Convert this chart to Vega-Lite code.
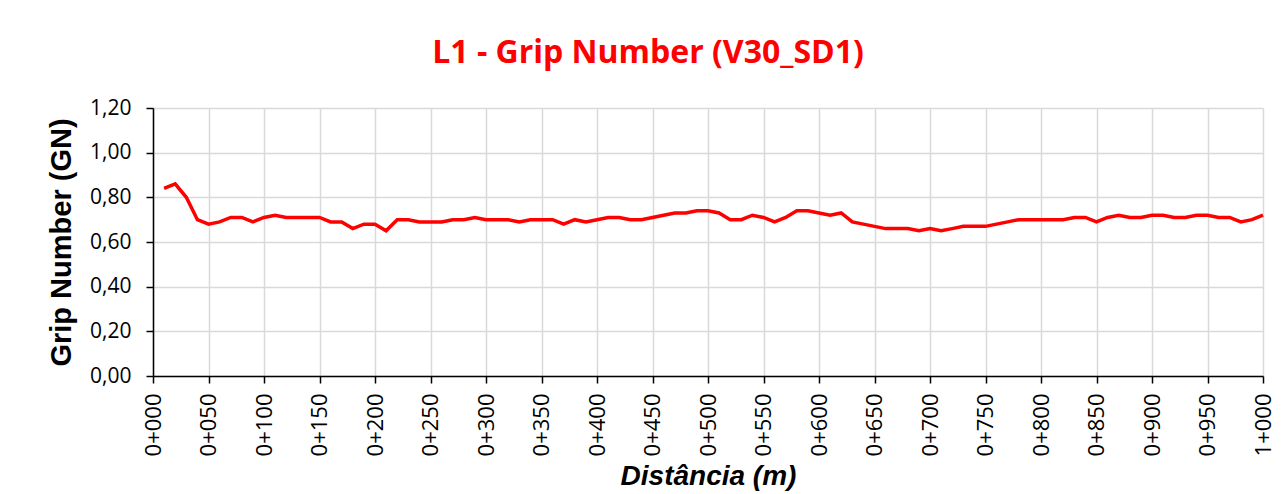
{
  "$schema": "https://vega.github.io/schema/vega-lite/v6.json",
  "autosize": {"type": "none"},
  "width": 1110,
  "height": 268,
  "padding": {"left": 153, "top": 108, "right": 19, "bottom": 118},
  "background": "white",
  "config": {"view": {"stroke": null}},
  "title": {
    "text": "L1 - Grip Number (V30_SD1)",
    "font": "Open Sans",
    "fontSize": 32,
    "fontWeight": "bold",
    "color": "#FF0000",
    "anchor": "middle",
    "frame": "group",
    "dx": -60,
    "baseline": "alphabetic",
    "offset": 2
  },
  "data": {
    "values": [
      {"d": 10, "gn": 0.84}, {"d": 20, "gn": 0.86}, {"d": 30, "gn": 0.80}, {"d": 40, "gn": 0.70}, {"d": 50, "gn": 0.68},
      {"d": 60, "gn": 0.69}, {"d": 70, "gn": 0.71}, {"d": 80, "gn": 0.71}, {"d": 90, "gn": 0.69}, {"d": 100, "gn": 0.71},
      {"d": 110, "gn": 0.72}, {"d": 120, "gn": 0.71}, {"d": 130, "gn": 0.71}, {"d": 140, "gn": 0.71}, {"d": 150, "gn": 0.71},
      {"d": 160, "gn": 0.69}, {"d": 170, "gn": 0.69}, {"d": 180, "gn": 0.66}, {"d": 190, "gn": 0.68}, {"d": 200, "gn": 0.68},
      {"d": 210, "gn": 0.65}, {"d": 220, "gn": 0.70}, {"d": 230, "gn": 0.70}, {"d": 240, "gn": 0.69}, {"d": 250, "gn": 0.69},
      {"d": 260, "gn": 0.69}, {"d": 270, "gn": 0.70}, {"d": 280, "gn": 0.70}, {"d": 290, "gn": 0.71}, {"d": 300, "gn": 0.70},
      {"d": 310, "gn": 0.70}, {"d": 320, "gn": 0.70}, {"d": 330, "gn": 0.69}, {"d": 340, "gn": 0.70}, {"d": 350, "gn": 0.70},
      {"d": 360, "gn": 0.70}, {"d": 370, "gn": 0.68}, {"d": 380, "gn": 0.70}, {"d": 390, "gn": 0.69}, {"d": 400, "gn": 0.70},
      {"d": 410, "gn": 0.71}, {"d": 420, "gn": 0.71}, {"d": 430, "gn": 0.70}, {"d": 440, "gn": 0.70}, {"d": 450, "gn": 0.71},
      {"d": 460, "gn": 0.72}, {"d": 470, "gn": 0.73}, {"d": 480, "gn": 0.73}, {"d": 490, "gn": 0.74}, {"d": 500, "gn": 0.74},
      {"d": 510, "gn": 0.73}, {"d": 520, "gn": 0.70}, {"d": 530, "gn": 0.70}, {"d": 540, "gn": 0.72}, {"d": 550, "gn": 0.71},
      {"d": 560, "gn": 0.69}, {"d": 570, "gn": 0.71}, {"d": 580, "gn": 0.74}, {"d": 590, "gn": 0.74}, {"d": 600, "gn": 0.73},
      {"d": 610, "gn": 0.72}, {"d": 620, "gn": 0.73}, {"d": 630, "gn": 0.69}, {"d": 640, "gn": 0.68}, {"d": 650, "gn": 0.67},
      {"d": 660, "gn": 0.66}, {"d": 670, "gn": 0.66}, {"d": 680, "gn": 0.66}, {"d": 690, "gn": 0.65}, {"d": 700, "gn": 0.66},
      {"d": 710, "gn": 0.65}, {"d": 720, "gn": 0.66}, {"d": 730, "gn": 0.67}, {"d": 740, "gn": 0.67}, {"d": 750, "gn": 0.67},
      {"d": 760, "gn": 0.68}, {"d": 770, "gn": 0.69}, {"d": 780, "gn": 0.70}, {"d": 790, "gn": 0.70}, {"d": 800, "gn": 0.70},
      {"d": 810, "gn": 0.70}, {"d": 820, "gn": 0.70}, {"d": 830, "gn": 0.71}, {"d": 840, "gn": 0.71}, {"d": 850, "gn": 0.69},
      {"d": 860, "gn": 0.71}, {"d": 870, "gn": 0.72}, {"d": 880, "gn": 0.71}, {"d": 890, "gn": 0.71}, {"d": 900, "gn": 0.72},
      {"d": 910, "gn": 0.72}, {"d": 920, "gn": 0.71}, {"d": 930, "gn": 0.71}, {"d": 940, "gn": 0.72}, {"d": 950, "gn": 0.72},
      {"d": 960, "gn": 0.71}, {"d": 970, "gn": 0.71}, {"d": 980, "gn": 0.69}, {"d": 990, "gn": 0.70}, {"d": 1000, "gn": 0.72}
    ]
  },
  "mark": {"type": "line", "color": "#FF0000", "strokeWidth": 3.5},
  "encoding": {
    "x": {
      "field": "d",
      "type": "quantitative",
      "scale": {"domain": [0, 1000], "nice": false, "zero": false},
      "axis": {
        "title": "Distância (m)",
        "titleFont": "Liberation Sans",
        "titleFontSize": 28,
        "titleFontWeight": "bold",
        "titleFontStyle": "italic",
        "titleColor": "black",
        "titlePadding": 7,
        "values": [0, 50, 100, 150, 200, 250, 300, 350, 400, 450, 500, 550, 600, 650, 700, 750, 800, 850, 900, 950, 1000],
        "labelExpr": "floor(datum.value/1000) + '+' + format(datum.value % 1000, '03d')",
        "labelAngle": -90,
        "labelFont": "Open Sans",
        "labelFontSize": 22,
        "labelColor": "black",
        "labelPadding": 10,
        "labelOverlap": false,
        "labelFlush": false,
        "tickColor": "black",
        "tickSize": 7,
        "tickWidth": 1.5,
        "domainColor": "black",
        "domainWidth": 1.5,
        "grid": true,
        "gridColor": "#d9d9d9",
        "gridWidth": 1.5
      }
    },
    "y": {
      "field": "gn",
      "type": "quantitative",
      "scale": {"domain": [0, 1.2], "nice": false},
      "axis": {
        "title": "Grip Number (GN)",
        "titleFont": "Liberation Sans",
        "titleFontSize": 29,
        "titleFontWeight": "bold",
        "titleColor": "black",
        "titlePadding": 13,
        "values": [0, 0.2, 0.4, 0.6, 0.8, 1.0, 1.2],
        "labelExpr": "replace(format(datum.value, '.2f'), '.', ',')",
        "labelFont": "Open Sans",
        "labelFontSize": 21,
        "labelColor": "black",
        "labelPadding": 15,
        "labelOverlap": false,
        "labelFlush": false,
        "tickColor": "black",
        "tickSize": 7,
        "tickWidth": 1.5,
        "domainColor": "black",
        "domainWidth": 1.5,
        "grid": true,
        "gridColor": "#d9d9d9",
        "gridWidth": 1.5
      }
    }
  }
}
